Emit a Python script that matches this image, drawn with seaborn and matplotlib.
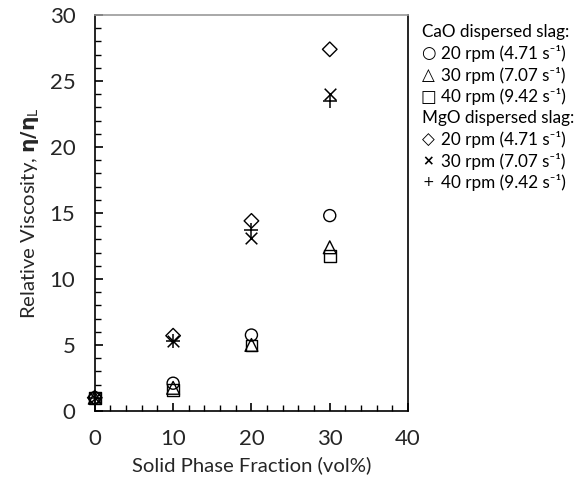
import matplotlib
matplotlib.use("Agg")
import matplotlib.pyplot as plt
import seaborn as sns
import pandas as pd
from matplotlib.ticker import MultipleLocator

sns.set_theme(style="ticks")
plt.rcParams['font.family'] = ['Lato', 'DejaVu Sans']
plt.rcParams['mathtext.fontset'] = 'custom'
plt.rcParams['mathtext.rm'] = 'Lato'
plt.rcParams['mathtext.bf'] = 'DejaVu Sans:bold'

fraction = [0, 10, 20, 30]
cao_20 = [1.0, 2.1, 5.75, 14.8]
cao_30 = [1.0, 1.75, 5.0, 12.4]
cao_40 = [1.0, 1.6, 4.95, 11.75]
mgo_20 = [1.0, 5.7, 14.4, 27.4]
mgo_30 = [1.0, 5.3, 13.1, 24.0]
mgo_40 = [1.0, 5.3, 13.7, 23.5]

series_names = ["CaO 20 rpm", "CaO 30 rpm", "CaO 40 rpm",
                "MgO 20 rpm", "MgO 30 rpm", "MgO 40 rpm"]
series_values = [cao_20, cao_30, cao_40, mgo_20, mgo_30, mgo_40]
markers = ["o", "^", "s", "D", "x", "+"]
sizes = [75, 85, 70, 55, 70, 90]

legend_symbols = ["", "\u25CB", "\u25B3", "\u25A1", "", "\u25C7", "\u00D7", "+"]
legend_labels = [
    "CaO dispersed slag:",
    "20 rpm (4.71 s\u207B\u00B9)",
    "30 rpm (7.07 s\u207B\u00B9)",
    "40 rpm (9.42 s\u207B\u00B9)",
    "MgO dispersed slag:",
    "20 rpm (4.71 s\u207B\u00B9)",
    "30 rpm (7.07 s\u207B\u00B9)",
    "40 rpm (9.42 s\u207B\u00B9)",
]

fig = plt.figure(figsize=(5.78, 4.84), dpi=100)
ax = fig.add_axes([0.164, 0.151, 0.542, 0.818])

for name, vals, m, s in zip(series_names, series_values, markers, sizes):
    df = pd.DataFrame({"x": fraction, "y": vals})
    if m in ("x", "+"):
        sns.scatterplot(data=df, x="x", y="y", marker=m, s=s, color="black",
                        linewidth=1.1, ax=ax, clip_on=False, zorder=3)
    else:
        sns.scatterplot(data=df, x="x", y="y", marker=m, s=s,
                        facecolor="none", edgecolor="black",
                        linewidth=1.0, ax=ax, clip_on=False, zorder=3)

ax.set_xlim(0, 40)
ax.set_ylim(0, 30)
ax.xaxis.set_major_locator(MultipleLocator(10))
ax.xaxis.set_minor_locator(MultipleLocator(2))
ax.yaxis.set_major_locator(MultipleLocator(5))
ax.yaxis.set_minor_locator(MultipleLocator(1))
ax.tick_params(which="major", direction="in", length=6, width=1.2,
               labelsize=16, color="black", top=False, right=False)
ax.tick_params(axis="x", which="major", pad=13)
ax.tick_params(axis="y", which="major", pad=14)
ax.tick_params(which="minor", direction="in", length=4, width=1.0,
               color="black", top=False, right=False)
for sp in ax.spines.values():
    sp.set_color("black")
    sp.set_linewidth(1.2)
ax.spines["top"].set_color("#999999")

ax.set_xlabel("Solid Phase Fraction (vol%)", fontsize=14.6, labelpad=5)
ax.set_ylabel(r"Relative Viscosity, $\mathbf{\eta/\eta}_{\mathrm{L}}$",
              fontsize=14.6, labelpad=6)

y0 = 1 - 32 / 484
dy = 21.5 / 484
for i, (sym, lab) in enumerate(zip(legend_symbols, legend_labels)):
    y = y0 - i * dy
    if sym:
        fs = 10 if sym in ("\u00D7", "+") else 12
        fig.text(428.5 / 578, y, sym, fontsize=fs, va="center", ha="center",
                 color="black", family="DejaVu Sans",
                 fontweight="bold" if sym == "\u00D7" else "normal")
        fig.text(441 / 578, y, lab, fontsize=12.3, va="center", ha="left",
                 color="black")
    else:
        fig.text(422 / 578, y, lab, fontsize=12.3, va="center", ha="left",
                 color="black")

fig.savefig("out.png", dpi=100)
